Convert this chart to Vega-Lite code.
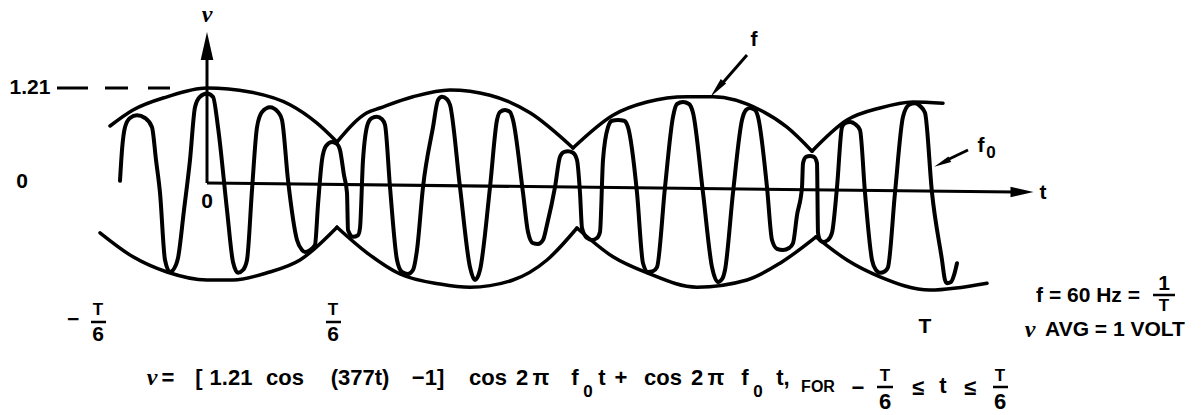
{
  "$schema": "https://vega.github.io/schema/vega-lite/v6.json",
  "width": 1202,
  "height": 415,
  "autosize": {"type": "fit", "contains": "padding"},
  "padding": 0,
  "background": "white",
  "config": {"view": {"stroke": null}},
  "datasets": {
    "wave": [
      {"t":-1.74,"v":0.04},{"t":-1.70,"v":0.425},{"t":-1.64,"v":0.71},{"t":-1.54,"v":0.825},{"t":-1.40,"v":0.86},{"t":-1.24,"v":0.825},{"t":-1.10,"v":0.71},{"t":-1.02,"v":0.30},{"t":-0.94,"v":-0.11},{"t":-0.84,"v":-0.95},{"t":-0.74,"v":-1.10},{"t":-0.62,"v":-1.01},{"t":-0.58,"v":-0.925},{"t":-0.46,"v":-0.325},{"t":-0.34,"v":0.30},{"t":-0.24,"v":0.96},{"t":-0.14,"v":1.09},{"t":0.0,"v":1.13},{"t":0.12,"v":1.09},{"t":0.22,"v":0.71},{"t":0.40,"v":-0.325},{"t":0.52,"v":-0.975},{"t":0.62,"v":-1.11},{"t":0.72,"v":-1.075},{"t":0.80,"v":-0.95},{"t":0.90,"v":-0.075},{"t":1.00,"v":0.71},{"t":1.10,"v":0.90},{"t":1.26,"v":0.96},{"t":1.42,"v":0.90},{"t":1.50,"v":0.80},{"t":1.62,"v":0.05},{"t":1.80,"v":-0.70},{"t":1.90,"v":-0.825},{"t":1.96,"v":-0.85},{"t":2.06,"v":-0.825},{"t":2.16,"v":-0.76},{"t":2.22,"v":-0.26},{"t":2.30,"v":0.30},{"t":2.38,"v":0.475},{"t":2.50,"v":0.525},{"t":2.60,"v":0.50},{"t":2.66,"v":0.425},{"t":2.74,"v":0.11},{"t":2.80,"v":-0.11},{"t":2.82,"v":-0.575},{"t":2.92,"v":-0.66},{"t":3.02,"v":-0.64},{"t":3.06,"v":-0.55},{"t":3.12,"v":0.30},{"t":3.22,"v":0.76},{"t":3.30,"v":0.825},{"t":3.40,"v":0.84},{"t":3.50,"v":0.81},{"t":3.56,"v":0.74},{"t":3.66,"v":-0.04},{"t":3.80,"v":-0.95},{"t":3.90,"v":-1.10},{"t":4.02,"v":-1.125},{"t":4.12,"v":-1.075},{"t":4.20,"v":-0.825},{"t":4.32,"v":-0.04},{"t":4.52,"v":0.71},{"t":4.62,"v":1.05},{"t":4.70,"v":1.09},{"t":4.80,"v":1.06},{"t":4.86,"v":0.99},{"t":5.06,"v":-0.04},{"t":5.26,"v":-1.04},{"t":5.36,"v":-1.20},{"t":5.46,"v":-1.075},{"t":5.66,"v":-0.04},{"t":5.80,"v":0.80},{"t":5.86,"v":0.90},{"t":5.96,"v":0.925},{"t":6.06,"v":0.90},{"t":6.12,"v":0.80},{"t":6.32,"v":-0.11},{"t":6.42,"v":-0.60},{"t":6.52,"v":-0.74},{"t":6.62,"v":-0.75},{"t":6.72,"v":-0.70},{"t":6.80,"v":-0.51},{"t":6.96,"v":-0.04},{"t":7.06,"v":0.34},{"t":7.14,"v":0.40},{"t":7.22,"v":0.41},{"t":7.32,"v":0.39},{"t":7.40,"v":0.30},{"t":7.46,"v":-0.11},{"t":7.50,"v":-0.55},{"t":7.60,"v":-0.675},{"t":7.70,"v":-0.70},{"t":7.80,"v":-0.675},{"t":7.86,"v":-0.60},{"t":7.92,"v":0.30},{"t":8.02,"v":0.71},{"t":8.10,"v":0.79},{"t":8.22,"v":0.80},{"t":8.34,"v":0.79},{"t":8.42,"v":0.71},{"t":8.60,"v":-0.11},{"t":8.72,"v":-0.99},{"t":8.82,"v":-1.10},{"t":8.92,"v":-1.09},{"t":9.00,"v":-1.04},{"t":9.16,"v":-0.04},{"t":9.32,"v":0.84},{"t":9.40,"v":1.00},{"t":9.52,"v":1.025},{"t":9.64,"v":1.00},{"t":9.72,"v":0.89},{"t":9.92,"v":-0.11},{"t":10.10,"v":-1.04},{"t":10.22,"v":-1.225},{"t":10.30,"v":-1.19},{"t":10.36,"v":-1.075},{"t":10.52,"v":-0.11},{"t":10.70,"v":0.80},{"t":10.78,"v":0.925},{"t":10.86,"v":0.95},{"t":10.96,"v":0.925},{"t":11.02,"v":0.84},{"t":11.20,"v":-0.04},{"t":11.30,"v":-0.70},{"t":11.40,"v":-0.81},{"t":11.52,"v":-0.825},{"t":11.64,"v":-0.80},{"t":11.72,"v":-0.74},{"t":11.80,"v":-0.39},{"t":11.90,"v":-0.04},{"t":11.92,"v":0.26},{"t":11.98,"v":0.34},{"t":12.06,"v":0.35},{"t":12.14,"v":0.34},{"t":12.20,"v":0.26},{"t":12.22,"v":-0.61},{"t":12.26,"v":-0.70},{"t":12.32,"v":-0.725},{"t":12.42,"v":-0.70},{"t":12.50,"v":-0.61},{"t":12.60,"v":-0.04},{"t":12.70,"v":0.71},{"t":12.76,"v":0.76},{"t":12.86,"v":0.775},{"t":12.96,"v":0.75},{"t":13.06,"v":0.675},{"t":13.16,"v":-0.11},{"t":13.30,"v":-0.95},{"t":13.38,"v":-1.075},{"t":13.46,"v":-1.11},{"t":13.56,"v":-1.09},{"t":13.62,"v":-1.04},{"t":13.76,"v":-0.11},{"t":13.92,"v":0.84},{"t":14.04,"v":0.99},{"t":14.16,"v":1.01},{"t":14.26,"v":0.975},{"t":14.36,"v":0.89},{"t":14.50,"v":-0.11},{"t":14.70,"v":-0.95},{"t":14.76,"v":-1.20},{"t":14.80,"v":-1.24},{"t":14.88,"v":-1.225},{"t":14.94,"v":-1.14},{"t":15.00,"v":-0.99}
    ],
    "env": [
      {"arc":"u1","t":-1.94,"v":0.725},{"arc":"u1","t":-1.48,"v":0.925},{"arc":"u1","t":-0.80,"v":1.09},{"arc":"u1","t":0.0,"v":1.20},{"arc":"u1","t":0.86,"v":1.15},{"arc":"u1","t":1.66,"v":0.99},{"arc":"u1","t":2.20,"v":0.76},{"arc":"u1","t":2.60,"v":0.525},
      {"arc":"u2","t":2.60,"v":0.525},{"arc":"u2","t":3.20,"v":0.89},{"arc":"u2","t":3.46,"v":0.95},{"arc":"u2","t":4.12,"v":1.09},{"arc":"u2","t":4.86,"v":1.175},{"arc":"u2","t":5.66,"v":1.11},{"arc":"u2","t":6.46,"v":0.89},{"arc":"u2","t":7.32,"v":0.45},
      {"arc":"u3","t":7.32,"v":0.45},{"arc":"u3","t":8.12,"v":0.86},{"arc":"u3","t":8.80,"v":1.025},{"arc":"u3","t":9.60,"v":1.09},{"arc":"u3","t":10.12,"v":1.09},{"arc":"u3","t":11.06,"v":0.925},{"arc":"u3","t":11.60,"v":0.71},{"arc":"u3","t":12.10,"v":0.41},
      {"arc":"u4","t":12.10,"v":0.41},{"arc":"u4","t":12.80,"v":0.80},{"arc":"u4","t":13.46,"v":0.95},{"arc":"u4","t":14.12,"v":1.025},{"arc":"u4","t":14.72,"v":1.01},
      {"arc":"l1","t":-2.14,"v":-0.61},{"arc":"l1","t":-1.48,"v":-0.91},{"arc":"l1","t":-0.80,"v":-1.10},{"arc":"l1","t":0.0,"v":-1.20},{"arc":"l1","t":0.52,"v":-1.20},{"arc":"l1","t":1.20,"v":-1.11},{"arc":"l1","t":1.86,"v":-0.95},{"arc":"l1","t":2.60,"v":-0.54},
      {"arc":"l2","t":2.60,"v":-0.54},{"arc":"l2","t":3.20,"v":-0.86},{"arc":"l2","t":3.86,"v":-1.125},{"arc":"l2","t":4.66,"v":-1.25},{"arc":"l2","t":5.26,"v":-1.29},{"arc":"l2","t":6.12,"v":-1.20},{"arc":"l2","t":6.80,"v":-0.95},{"arc":"l2","t":7.40,"v":-0.55},
      {"arc":"l3","t":7.40,"v":-0.55},{"arc":"l3","t":8.12,"v":-0.91},{"arc":"l3","t":8.80,"v":-1.11},{"arc":"l3","t":9.80,"v":-1.29},{"arc":"l3","t":10.80,"v":-1.20},{"arc":"l3","t":11.46,"v":-0.99},{"arc":"l3","t":12.18,"v":-0.66},
      {"arc":"l4","t":12.18,"v":-0.66},{"arc":"l4","t":12.80,"v":-0.95},{"arc":"l4","t":13.46,"v":-1.16},{"arc":"l4","t":14.46,"v":-1.325},{"arc":"l4","t":15.60,"v":-1.24}
    ],
    "guides": [
      {"seg":"h","i":0,"t":0.0,"v":0.0125},{"seg":"h","i":1,"t":16.16,"v":-0.1},
      {"seg":"vax","i":0,"t":0.0,"v":0.0125},{"seg":"vax","i":1,"t":0.0,"v":1.675},
      {"seg":"fa","i":0,"t":10.80,"v":1.6125},{"seg":"fa","i":1,"t":10.26,"v":1.225},
      {"seg":"f0a","i":0,"t":15.22,"v":0.425},{"seg":"f0a","i":1,"t":14.76,"v":0.2875}
    ],
    "heads": [
      {"name":"up","t":0.0,"v":1.725},
      {"name":"right","t":16.30,"v":-0.1},
      {"name":"f","t":10.20,"v":1.1875},
      {"name":"f0","t":14.70,"v":0.2625}
    ],
    "dash": [
      {"t":-3.00,"t2":-2.38,"v":1.2},{"t":-2.04,"t2":-1.58,"v":1.2},{"t":-1.18,"t2":-0.74,"v":1.2}
    ],
    "bars": [
      {"t":-2.32,"t2":-2.02,"v":-1.725},{"t":2.38,"t2":2.68,"v":-1.725},{"t":18.92,"t2":19.36,"v":-1.3875},{"t":13.40,"t2":13.72,"v":-2.5375},{"t":15.72,"t2":16.02,"v":-2.5375}
    ],
    "labels": [
      {"kind":"label","label":"1.21","t":-3.54,"v":1.2},
      {"kind":"label","label":"0","t":-3.70,"v":0.025},
      {"kind":"label","label":"0","t":0.0,"v":-0.225},
      {"kind":"label","label":"t","t":16.72,"v":-0.1125},
      {"kind":"label","label":"f","t":10.94,"v":1.80},
      {"kind":"label","label":"f","t":15.48,"v":0.475},
      {"kind":"label","label":"−","t":-2.68,"v":-1.70},
      {"kind":"label","label":"6","t":-2.18,"v":-1.8875},
      {"kind":"label","label":"6","t":2.52,"v":-1.8875},
      {"kind":"label","label":"T","t":14.36,"v":-1.7875},
      {"kind":"label","label":"f = 60 Hz =","t":17.62,"v":-1.40},
      {"kind":"label","label":"1","t":19.14,"v":-1.25},
      {"kind":"label","label":"AVG = 1 VOLT","t":18.16,"v":-1.825},
      {"kind":"script","label":"0","t":15.68,"v":0.39},
      {"kind":"script","label":"T","t":-2.18,"v":-1.58},
      {"kind":"script","label":"T","t":2.52,"v":-1.58},
      {"kind":"script","label":"T","t":19.14,"v":-1.53},
      {"kind":"script","label":"0","t":7.62,"v":-2.6},
      {"kind":"script","label":"0","t":11.02,"v":-2.6},
      {"kind":"script","label":"T","t":13.56,"v":-2.40},
      {"kind":"script","label":"T","t":15.86,"v":-2.40},
      {"kind":"small","label":"FOR","t":12.22,"v":-2.54},
      {"kind":"formula","label":"=","t":-0.78,"v":-2.425},
      {"kind":"formula","label":"[","t":-0.16,"v":-2.425},
      {"kind":"formula","label":"1.21","t":0.48,"v":-2.425},
      {"kind":"formula","label":"cos","t":1.56,"v":-2.425},
      {"kind":"formula","label":"(377t)","t":3.06,"v":-2.425},
      {"kind":"formula","label":"−1]","t":4.42,"v":-2.425},
      {"kind":"formula","label":"cos","t":5.62,"v":-2.425},
      {"kind":"formula","label":"2","t":6.30,"v":-2.425},
      {"kind":"formula","label":"π","t":6.68,"v":-2.425},
      {"kind":"formula","label":"f","t":7.36,"v":-2.425},
      {"kind":"formula","label":"t","t":7.90,"v":-2.425},
      {"kind":"formula","label":"+","t":8.28,"v":-2.425},
      {"kind":"formula","label":"cos","t":9.12,"v":-2.425},
      {"kind":"formula","label":"2","t":9.80,"v":-2.425},
      {"kind":"formula","label":"π","t":10.18,"v":-2.425},
      {"kind":"formula","label":"f","t":10.76,"v":-2.425},
      {"kind":"formula","label":"t,","t":11.52,"v":-2.425},
      {"kind":"formula","label":"−","t":13.02,"v":-2.55},
      {"kind":"formula","label":"6","t":13.56,"v":-2.725},
      {"kind":"formula","label":"≤","t":14.22,"v":-2.55},
      {"kind":"formula","label":"t","t":14.72,"v":-2.525},
      {"kind":"formula","label":"≤","t":15.26,"v":-2.55},
      {"kind":"formula","label":"6","t":15.86,"v":-2.725},
      {"kind":"greek","label":"ν","t":0.0,"v":2.1125},
      {"kind":"greek","label":"ν","t":-1.10,"v":-2.425},
      {"kind":"greek","label":"ν","t":16.46,"v":-1.825}
    ]
  },
  "encoding": {
    "x": {"field":"t","type":"quantitative","scale":{"domain":[-4.14,19.9],"nice":false,"zero":false},"axis":null},
    "y": {"field":"v","type":"quantitative","scale":{"domain":[-2.8875,2.3],"nice":false,"zero":false},"axis":null}
  },
  "layer": [
    {
      "data":{"name":"env"},
      "mark":{"type":"line","interpolate":"monotone","color":"black","strokeWidth":3.5,"strokeCap":"round"},
      "encoding":{"detail":{"field":"arc","type":"nominal"}}
    },
    {
      "data":{"name":"wave"},
      "mark":{"type":"line","interpolate":"monotone","color":"black","strokeWidth":4,"strokeCap":"round","strokeJoin":"round"},
      "encoding":{}
    },
    {
      "data":{"name":"guides"},
      "mark":{"type":"line","color":"black","strokeWidth":3},
      "encoding":{"detail":{"field":"seg","type":"nominal"},"order":{"field":"i","type":"quantitative"}}
    },
    {
      "data":{"name":"dash"},
      "mark":{"type":"rule","color":"black","strokeWidth":3},
      "encoding":{"x2":{"field":"t2"}}
    },
    {
      "data":{"name":"bars"},
      "mark":{"type":"rule","color":"black","strokeWidth":2.5},
      "encoding":{"x2":{"field":"t2"}}
    },
    {
      "data":{"name":"heads"},
      "transform":[{"filter":"datum.name === 'up'"}],
      "mark":{"type":"point","filled":true,"color":"black","opacity":1,"shape":"M0,-1L0.45,1L-0.45,1Z","size":784}
    },
    {
      "data":{"name":"heads"},
      "transform":[{"filter":"datum.name === 'right'"}],
      "mark":{"type":"point","filled":true,"color":"black","opacity":1,"shape":"M1,0L-1,0.45L-1,-0.45Z","size":529}
    },
    {
      "data":{"name":"heads"},
      "transform":[{"filter":"datum.name === 'f'"}],
      "mark":{"type":"point","filled":true,"color":"black","opacity":1,"shape":"M0,-1L0.35,1L-0.35,1Z","size":400,"angle":220}
    },
    {
      "data":{"name":"heads"},
      "transform":[{"filter":"datum.name === 'f0'"}],
      "mark":{"type":"point","filled":true,"color":"black","opacity":1,"shape":"M0,-1L0.35,1L-0.35,1Z","size":300,"angle":244}
    },
    {
      "data":{"name":"labels"},
      "transform":[{"filter":"datum.kind === 'label'"}],
      "mark":{"type":"text","font":"Liberation Sans","fontWeight":"bold","fontSize":21,"align":"center","baseline":"middle","color":"black"},
      "encoding":{"text":{"field":"label"}}
    },
    {
      "data":{"name":"labels"},
      "transform":[{"filter":"datum.kind === 'script'"}],
      "mark":{"type":"text","font":"Liberation Sans","fontWeight":"bold","fontSize":17,"align":"center","baseline":"middle","color":"black"},
      "encoding":{"text":{"field":"label"}}
    },
    {
      "data":{"name":"labels"},
      "transform":[{"filter":"datum.kind === 'small'"}],
      "mark":{"type":"text","font":"Liberation Sans","fontWeight":"bold","fontSize":16,"align":"center","baseline":"middle","color":"black"},
      "encoding":{"text":{"field":"label"}}
    },
    {
      "data":{"name":"labels"},
      "transform":[{"filter":"datum.kind === 'formula'"}],
      "mark":{"type":"text","font":"Liberation Sans","fontWeight":"bold","fontSize":22,"align":"center","baseline":"middle","color":"black"},
      "encoding":{"text":{"field":"label"}}
    },
    {
      "data":{"name":"labels"},
      "transform":[{"filter":"datum.kind === 'greek'"}],
      "mark":{"type":"text","font":"Liberation Serif","fontWeight":"bold","fontStyle":"italic","fontSize":24,"align":"center","baseline":"middle","color":"black"},
      "encoding":{"text":{"field":"label"}}
    }
  ]
}
